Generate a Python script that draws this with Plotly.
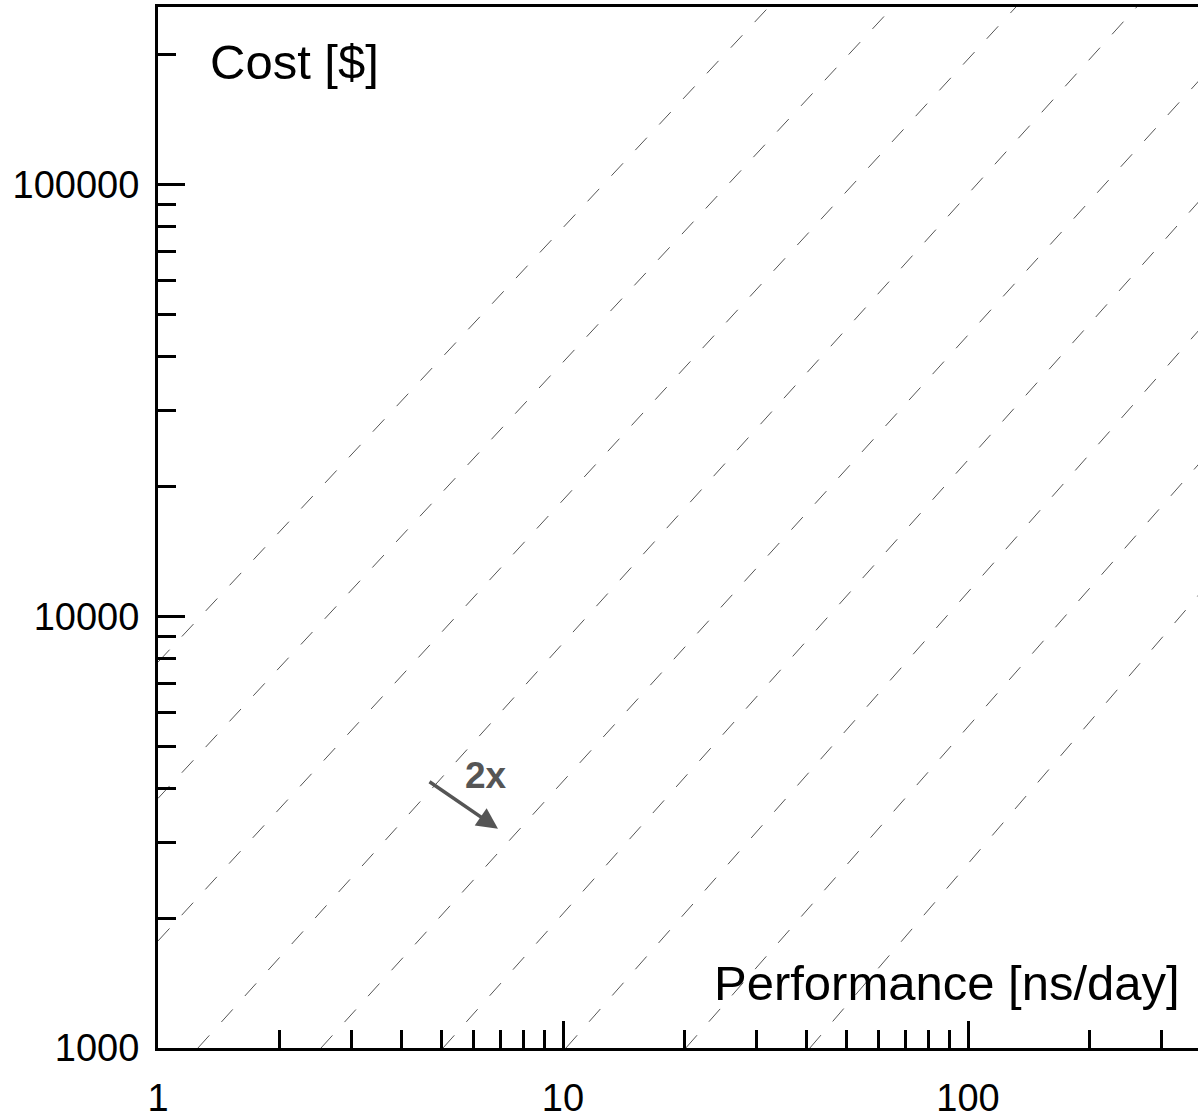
import plotly.graph_objects as go

# Iso performance-to-price lines (dashed): start and end points
line_start_perf = [1.0, 1.0, 1.0, 1.255, 2.526, 5.055, 10.17, 20.1, 40.7]
line_start_cost = [7834, 3787, 1770, 1000, 1000, 1000, 1000, 1000, 1000]
line_end_perf = [32.6, 66.0, 132.9, 264.0, 371.5, 371.5, 371.5, 371.5, 371.5]
line_end_cost = [261200, 261200, 261200, 261200, 174100, 91400, 46000, 22540, 11220]

x_major = [1, 10, 100]
x_major_text = ["1", "10", "100"]
x_minor = [2, 3, 4, 5, 6, 7, 8, 9, 20, 30, 40, 50, 60, 70, 80, 90, 200, 300]
y_major = [1000, 10000, 100000]
y_major_text = ["1000", "10000", "100000"]
y_minor = [2000, 3000, 4000, 5000, 6000, 7000, 8000, 9000,
           20000, 30000, 40000, 50000, 60000, 70000, 80000, 90000, 200000]

FONT = "Liberation Sans, Arial, Helvetica, sans-serif"

fig = go.Figure()
for xs, ys, xe, ye in zip(line_start_perf, line_start_cost, line_end_perf, line_end_cost):
    fig.add_trace(go.Scatter(
        x=[xs, xe], y=[ys, ye], mode="lines",
        line=dict(color="#555555", width=1, dash="17px,18px"),
        hoverinfo="skip", showlegend=False))

W, H = 1198, 1119
ml, mr, mt, mb = 158, 0, 7, 60.5
pw = W - ml - mr
ph = H - mt - mb
x_dec = 405.0
y_dec = 436.0

fig.update_layout(
    width=W, height=H,
    margin=dict(l=ml, r=mr, t=mt, b=mb, pad=0),
    paper_bgcolor="white", plot_bgcolor="white",
    showlegend=False,
    font=dict(family=FONT, color="black"),
    xaxis=dict(
        type="log", range=[0, pw / x_dec],
        showgrid=False, zeroline=False,
        showline=True, linecolor="black", linewidth=3, mirror=True,
        ticks="inside", ticklen=27, tickwidth=3, tickcolor="black",
        tickmode="array", tickvals=x_major, ticktext=x_major_text,
        tickfont=dict(family=FONT, size=38, color="black"),
        ticklabelstandoff=14,
        minor=dict(ticks="inside", ticklen=18, tickwidth=3, tickcolor="black",
                   tickmode="array", tickvals=x_minor, showgrid=False),
    ),
    yaxis=dict(
        type="log", range=[3, 3 + ph / y_dec],
        showgrid=False, zeroline=False,
        showline=True, linecolor="black", linewidth=3, mirror=False,
        ticks="inside", ticklen=27, tickwidth=3, tickcolor="black",
        tickmode="array", tickvals=y_major, ticktext=y_major_text,
        tickfont=dict(family=FONT, size=38, color="black"),
        ticklabelstandoff=8,
        minor=dict(ticks="inside", ticklen=18, tickwidth=3, tickcolor="black",
                   tickmode="array", tickvals=y_minor, showgrid=False),
    ),
)

def px_to_paper(px, py):
    return (px - ml) / pw, (H - mb - py) / ph

# axis titles inside the plot
cx, cy = px_to_paper(208, 63)
fig.add_annotation(text="Cost [$]", xref="paper", yref="paper", x=cx, y=cy,
                   xanchor="left", yanchor="middle", showarrow=False,
                   font=dict(family=FONT, size=49, color="black"))
px_, py_ = px_to_paper(1182, 993)
fig.add_annotation(text="Performance [ns/day]", xref="paper", yref="paper", x=px_, y=py_,
                   xanchor="right", yanchor="middle", showarrow=False,
                   font=dict(family=FONT, size=49, color="black"))

# "2x" label and arrow
tx, ty = px_to_paper(486, 783)
fig.add_annotation(text="<b>2x</b>", xref="paper", yref="paper", x=tx, y=ty,
                   xanchor="center", yanchor="middle", showarrow=False,
                   font=dict(family=FONT, size=37, color="#555555"))
hx, hy = px_to_paper(498, 837)
fig.add_annotation(text="", xref="paper", yref="paper", x=hx, y=hy,
                   ax=-70, ay=-48, axref="pixel", ayref="pixel",
                   showarrow=True, arrowhead=2, arrowsize=1.2, arrowwidth=3.5,
                   arrowcolor="#555555")

fig.write_html("out.html", config={"displayModeBar": False},
               post_script="document.body.style.margin='0';document.body.style.overflow='hidden';")
